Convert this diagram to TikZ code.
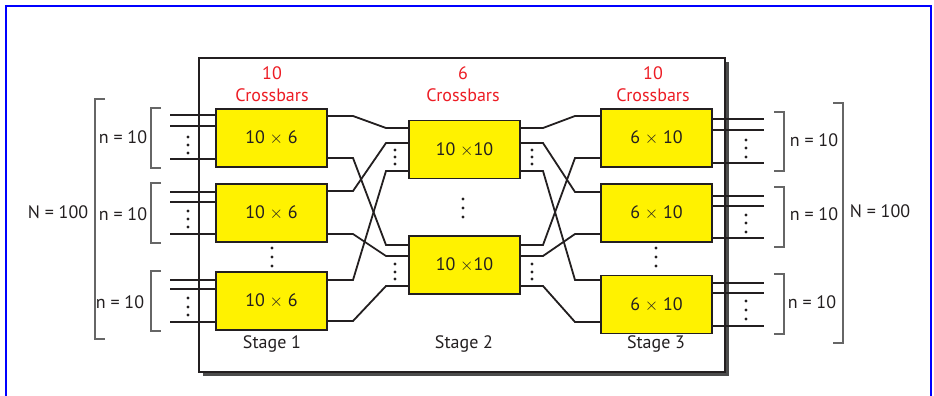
\documentclass[tikz,border=0pt]{standalone}
\usepackage{fontspec}
\setmainfont{PT Sans}
\usetikzlibrary{calc}
\definecolor{xyellow}{RGB}{255,242,0}
\definecolor{xred}{RGB}{237,28,36}
\definecolor{xblue}{RGB}{0,0,255}
\definecolor{ink}{RGB}{35,31,32}
\newcommand{\tms}{\ensuremath{\times}}
\begin{document}
\begin{tikzpicture}[x=1pt,y=-1pt,
  xbar/.style={draw=ink, line width=1.3pt, fill=xyellow, minimum width=111pt, minimum height=58pt, inner sep=0pt, font=\fontsize{18}{20}\selectfont, text=ink},
  wire/.style={line width=1.8pt, draw=ink},
  brk/.style={line width=1.1pt, draw=black!60},
  lbl/.style={font=\fontsize{18}{20}\selectfont, text=ink, inner sep=0pt},
  redlbl/.style={font=\fontsize{18}{20}\selectfont, text=xred, inner sep=0pt},
  dotc/.style={fill=ink}
]
\useasboundingbox (0,0) rectangle (934,396);
% blue outer frame
\draw[xblue, line width=2pt] (6,396) -- (6,6) -- (931,6) -- (931,396);
% inner frame with shadow
\fill[black!70] (203,62) rectangle (729,376);
\draw[ink, fill=white, line width=1.3pt] (199,58) rectangle (725,372);

% crossbars
\node[xbar] (a1) at (271.5,138) {10 \tms{} 6};
\node[xbar] (a2) at (271.5,213) {10 \tms{} 6};
\node[xbar] (a3) at (271.5,301) {10 \tms{} 6};
\node[xbar] (b1) at (464.5,149.5) {10 \tms10};
\node[xbar] (b2) at (464.5,265) {10 \tms10};
\node[xbar] (c1) at (656.5,138) {6 \tms{} 10};
\node[xbar] (c2) at (656.5,213) {6 \tms{} 10};
\node[xbar] (c3) at (656.5,304.5) {6 \tms{} 10};

% header labels
\node[redlbl] (h1a) at (272,73) {10};
\node[redlbl] (h1b) at (272,95) {Crossbars};
\node[redlbl] (h2a) at (463,73) {6};
\node[redlbl] (h2b) at (463,95) {Crossbars};
\node[redlbl] (h3a) at (653,73) {10};
\node[redlbl] (h3b) at (653,95) {Crossbars};

% stage labels
\node[lbl] (s1) at (272,344) {Stage 1};
\node[lbl] (s2) at (464,344) {Stage 2};
\node[lbl] (s3) at (656,344) {Stage 3};

% inputs to stage 1
\foreach \y in {115,126,159,192,202,234,280,289,322}{
  \coordinate (in) at (170,\y);
  \draw[wire] (in) -- (in -| a1.west);
}
% outputs of stage 3
\foreach \y in {119,130,163,196,206,238,283,293,326}{
  \coordinate (out) at (764,\y);
  \draw[wire] (c1.east |- out) -- (out);
}

% stage 1 -> stage 2
\foreach \src/\ya/\dst/\yb in {a1/116/b1/128, a2/191/b1/143, a3/280/b1/171,
                               a1/158/b2/245, a2/234/b2/256, a3/321/b2/286}{
  \draw[wire] (\src.east |- 0,\ya) -- (353,\ya) -- (386,\yb) -- (\dst.west |- 0,\yb);
}
% stage 2 -> stage 3
\foreach \src/\ya/\dst/\yb in {b1/128/c1/116, b1/143/c2/192, b1/171/c3/280,
                               b2/245/c1/158, b2/256/c2/234, b2/286/c3/322}{
  \draw[wire] (\src.east |- 0,\ya) -- (543,\ya) -- (575,\yb) -- (\dst.west |- 0,\yb);
}

% dots
\foreach \x/\y in {188/137,188/145,188/153, 188/211,188/219,188/227, 188/298,188/307,188/315,
                   272/248,272/257,272/266,
                   395/150,395/157,395/164, 395/264,395/272,395/279,
                   532/150,532/157,532/164, 532/264,532/272,532/279,
                   463/199,463/208,463/217,
                   656/248,656/257,656/266,
                   746/140,746/148,746/157, 746/215,746/223,746/232, 746/301,746/310,746/319}{
  \fill[dotc] (\x,\y) circle (1.6pt);
}

% brackets left
\draw[brk] (105,99) -- (95,99) -- (95,339) -- (105,339);
\draw[brk] (161,108) -- (151,108) -- (151,168) -- (161,168);
\draw[brk] (161,183) -- (151,183) -- (151,243) -- (161,243);
\draw[brk] (161,271) -- (151,271) -- (151,331) -- (161,331);
% brackets right
\draw[brk] (774,112) -- (784,112) -- (784,171) -- (774,171);
\draw[brk] (774,187) -- (784,187) -- (784,247) -- (774,247);
\draw[brk] (774,274) -- (784,274) -- (784,334) -- (774,334);
\draw[brk] (833,103) -- (843,103) -- (843,343) -- (833,343);

% n and N labels
\node[lbl] (nl1) at (123,137) {n = 10};
\node[lbl] (nl2) at (123,214) {n = 10};
\node[lbl] (nl3) at (120,302) {n = 10};
\node[lbl] (Nl) at (58,212) {N = 100};
\node[lbl] (nr1) at (814,140) {n = 10};
\node[lbl] (nr2) at (814,214) {n = 10};
\node[lbl] (nr3) at (812,302) {n = 10};
\node[lbl] (Nr) at (880,211) {N = 100};
\end{tikzpicture}
\end{document}
